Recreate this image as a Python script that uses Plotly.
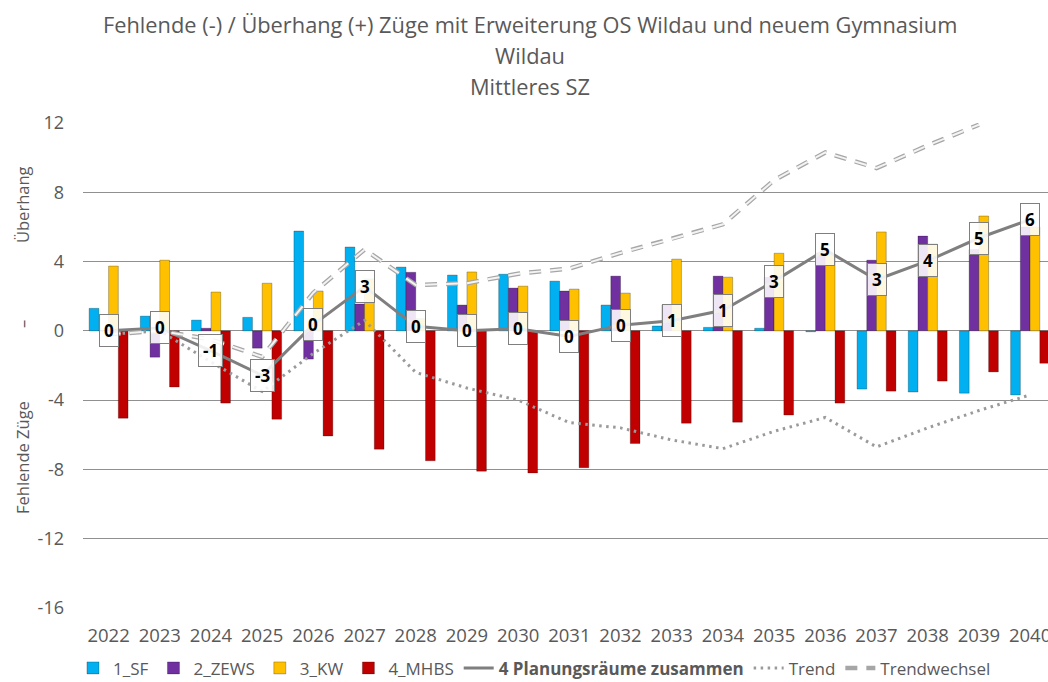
import plotly.graph_objects as go

# Jahrgänge (Kategorien)
years = [str(y) for y in range(2022, 2041)]

# Fehlende (-) / Überhang (+) Züge je Planungsraum
sf = [1.3, 0.85, 0.62, 0.78, 5.76, 4.84, 3.68, 3.22, 3.27, 2.87,
      1.49, 0.28, 0.2, 0.15, -0.05, -3.36, -3.53, -3.6, -3.7]
zews = [0.0, -1.52, 0.15, -1.0, -1.63, 1.55, 3.38, 1.49, 2.47, 2.3,
        3.16, 1.5, 3.16, 3.1, 4.5, 4.08, 5.47, 4.7, 6.0]
kw = [3.74, 4.08, 2.24, 2.75, 2.3, 3.0, 0.7, 3.4, 2.58, 2.41,
      2.18, 4.14, 3.1, 4.48, 4.4, 5.71, 5.0, 6.63, 6.0]
mhbs = [-5.04, -3.24, -4.17, -5.1, -6.07, -6.83, -7.5, -8.1, -8.2, -7.9,
        -6.5, -5.33, -5.27, -4.86, -4.17, -3.48, -2.9, -2.37, -1.87]

# Trendlinien
trend = [-0.2, 0.0, -1.8, -3.5, -1.3, 0.6, -2.4, -3.3, -4.0, -5.3,
         -5.6, -6.3, -6.8, -5.8, -5.0, -6.7, -5.6, -4.6, -3.7]
trendwechsel = [-0.2, 0.0, -0.5, -1.5, 2.2, 4.7, 2.65, 2.75, 3.3, 3.6,
                4.5, 5.3, 6.15, 8.7, 10.3, 9.4, 10.7, 11.9]

# Summe der vier Planungsräume
total = [a + b + c + d for a, b, c, d in zip(sf, zews, kw, mhbs)]

y_ticks = [-16, -12, -8, -4, 0, 4, 8, 12]
y_ticktext = [str(t) for t in y_ticks]

FONT = "Open Sans"
GREY_TXT = "#595959"

fig = go.Figure()

bar_series = [
    ("1_SF", sf, "#00B0F0"),
    ("2_ZEWS", zews, "#7030A0"),
    ("3_KW", kw, "#FFC000"),
    ("4_MHBS", mhbs, "#C00000"),
]
for name, vals, col in bar_series:
    fig.add_trace(go.Bar(
        x=years, y=vals, name=name,
        marker=dict(color=col, line=dict(color="rgba(0,0,0,0.25)", width=1)),
    ))

fig.add_trace(go.Scatter(
    x=years, y=total, mode="lines",
    name="<b>4 Planungsräume zusammen</b>",
    line=dict(color="#7f7f7f", width=3),
))

fig.add_trace(go.Scatter(
    x=years, y=trend, mode="lines", name="Trend",
    line=dict(color="#9a9a9a", width=3, dash="2.5px,4.5px"),
))

# Trendwechsel als doppelt konturierte Strichlinie
fig.add_trace(go.Scatter(
    x=years[:len(trendwechsel)], y=trendwechsel, mode="lines", name="Trendwechsel",
    line=dict(color="#a6a6a6", width=4.5, dash="12px,9px"),
))
fig.add_trace(go.Scatter(
    x=years[:len(trendwechsel)], y=trendwechsel, mode="lines", showlegend=False,
    hoverinfo="skip",
    line=dict(color="#f4f4f4", width=2, dash="12px,9px"),
))

# Wertebeschriftungen der Summenlinie (x als Kategorienindex)
for i, v in enumerate(total):
    fig.add_annotation(
        x=i, y=v, xref="x", yref="y", text=f"<b>{round(v)}</b>", showarrow=False,
        font=dict(family=FONT, size=17, color="#000000"),
        bgcolor="rgba(255,255,255,0.88)", bordercolor="#7f7f7f",
        borderwidth=1, borderpad=4,
    )

# Titel
title_lines = [
    ("Fehlende (-) / Überhang (+) Züge mit Erweiterung OS Wildau und neuem Gymnasium", 24),
    ("Wildau", 55),
    ("Mittleres SZ", 86),
]
for txt, ypx in title_lines:
    fig.add_annotation(
        xref="paper", yref="paper", x=(530 - 83) / (1048 - 83),
        y=(608 - ypx) / (608 - 123), text=txt, showarrow=False,
        xanchor="center", yanchor="middle",
        font=dict(family=FONT, size=21.8, color=GREY_TXT),
    )

# Achsentitel der y-Achse
for txt, ypx in [("Überhang", 204), ("–", 324), ("Fehlende Züge", 457)]:
    fig.add_annotation(
        xref="paper", yref="paper", x=(22 - 83) / (1048 - 83),
        y=(608 - ypx) / (608 - 123), text=txt, showarrow=False,
        textangle=-90, xanchor="center", yanchor="middle",
        font=dict(family=FONT, size=16.5, color=GREY_TXT),
    )

fig.update_layout(
    width=1048, height=682,
    margin=dict(l=83, r=0, t=123, b=74, autoexpand=False),
    paper_bgcolor="white", plot_bgcolor="white",
    barmode="group", bargap=0.24, bargroupgap=0,
    font=dict(family=FONT, color=GREY_TXT),
    showlegend=True,
    legend=dict(
        orientation="h", xref="container", yref="container",
        x=0.51, xanchor="center", y=0.02, yanchor="middle",
        font=dict(family=FONT, size=17, color=GREY_TXT),
        itemwidth=30, tracegroupgap=0,
    ),
    xaxis=dict(
        type="category", range=[-0.5, 18.35],
        showgrid=False, showline=False, ticks="",
        tickfont=dict(family=FONT, size=18.5, color=GREY_TXT),
        ticklabelstandoff=14,
    ),
    yaxis=dict(
        range=[-16, 12], tickvals=y_ticks, ticktext=y_ticktext,
        showgrid=True, gridcolor="#909090", gridwidth=1,
        zeroline=False, showline=False, ticks="",
        tickfont=dict(family=FONT, size=18, color=GREY_TXT),
        ticklabelstandoff=18,
    ),
)

fig.write_html("out.html")
